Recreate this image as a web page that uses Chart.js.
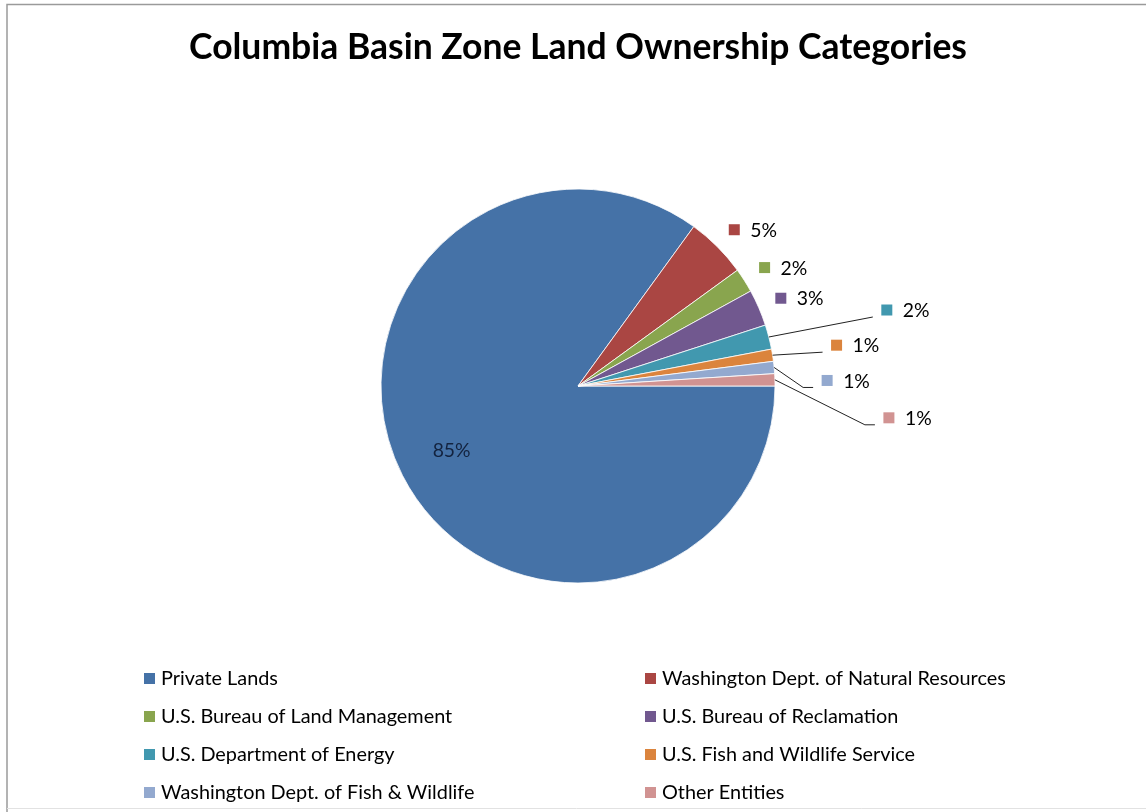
<!DOCTYPE html>
<html>
<head>
<meta charset="utf-8">
<script src="https://cdn.jsdelivr.net/npm/chart.js@4.4.1/dist/chart.umd.min.js"></script>
<style>
  html, body { margin: 0; padding: 0; background: #fff; }
  #quadro { width: 1146px; height: 812px; position: relative; }
</style>
</head>
<body>
<div id="quadro"><canvas id="grafico-pizza"></canvas></div>
<script>
// Land ownership shares (percent of zone area)
const categories = [
  'Private Lands',
  'Washington Dept. of Natural Resources',
  'U.S. Bureau of Land Management',
  'U.S. Bureau of Reclamation',
  'U.S. Department of Energy',
  'U.S. Fish and Wildlife Service',
  'Washington Dept. of Fish & Wildlife',
  'Other Entities'
];
const shares = [85, 5, 2, 3, 2, 1, 1, 1];
const sliceColors = ['#4572A7', '#AA4643', '#89A54E', '#71588F', '#4198AF', '#DB843D', '#93A9CF', '#D19392'];

const titleText = 'Columbia Basin Zone Land Ownership Categories';
const fontFamily = 'Lato, "Open Sans", sans-serif';

// pick a font size so a string comes out at a given width
function fitSize(text, weight, width) {
  const c = document.createElement('canvas').getContext('2d');
  c.font = weight + ' 100px ' + fontFamily;
  return 100 * width / c.measureText(text).width;
}
const titleSize = fitSize(titleText, 'bold', 778);
const legendSize = fitSize('Washington Dept. of Natural Resources', 'normal', 344);
const labelSize = fitSize('85%', 'normal', 38);

const titlePadTop = 48 - titleSize * 0.6;
const titlePadBottom = 20;
const areaTop = titlePadTop + titleSize * 1.2 + titlePadBottom;

// callout layout for the thin slices: elbow offset from the arc edge, then a short tail
const callouts = [
  null, null, null, null,
  { elbow: [104, -20], tail: 0 },
  { elbow: [50, -3], tail: 0 },
  { elbow: [29, 20], tail: 10 },
  { elbow: [90, 45], tail: 10 }
];

// frame around the chart object
const framePlugin = {
  id: 'frame',
  beforeDraw(chart) {
    const ctx = chart.ctx;
    ctx.save();
    ctx.fillStyle = '#fff';
    ctx.fillRect(0, 0, chart.width, chart.height);
    ctx.strokeStyle = '#9a9a9a';
    ctx.lineWidth = 1.5;
    ctx.beginPath();
    ctx.moveTo(chart.width + 5, 4.5);
    ctx.lineTo(7, 4.5);
    ctx.lineTo(7, chart.height + 5);
    ctx.stroke();
    ctx.strokeStyle = '#e2e2e2';
    ctx.lineWidth = 1;
    ctx.beginPath();
    ctx.moveTo(7, 808.5);
    ctx.lineTo(chart.width, 808.5);
    ctx.stroke();
    ctx.restore();
  }
};

// percent labels: inside the big slice, beside or on leader lines for the rest
const labelPlugin = {
  id: 'percentLabels',
  afterDatasetsDraw(chart) {
    const ctx = chart.ctx;
    const meta = chart.getDatasetMeta(0);
    const data = chart.data.datasets[0].data;
    const total = data.reduce((a, b) => a + b, 0);
    ctx.save();
    ctx.font = labelSize + 'px ' + fontFamily;
    ctx.textBaseline = 'middle';
    meta.data.forEach((arc, i) => {
      const { x, y, startAngle, endAngle, outerRadius } = arc.getProps(['x', 'y', 'startAngle', 'endAngle', 'outerRadius'], true);
      const mid = (startAngle + endAngle) / 2;
      const text = Math.round(data[i] / total * 100) + '%';
      if (i === 0) {
        ctx.fillStyle = '#13233f';
        ctx.textAlign = 'center';
        ctx.fillText(text, x + Math.cos(mid) * outerRadius * 0.72, y + Math.sin(mid) * outerRadius * 0.72);
        return;
      }
      let sx, sy;
      const co = callouts[i];
      if (!co) {
        sx = x + Math.cos(mid) * (outerRadius + 24);
        sy = y + Math.sin(mid) * (outerRadius + 24);
      } else {
        const ax = x + Math.cos(mid) * outerRadius;
        const ay = y + Math.sin(mid) * outerRadius;
        const ex = ax + co.elbow[0];
        const ey = ay + co.elbow[1];
        ctx.strokeStyle = '#222';
        ctx.lineWidth = 1;
        ctx.beginPath();
        ctx.moveTo(ax, ay);
        ctx.lineTo(ex, ey);
        ctx.lineTo(ex + co.tail, ey);
        ctx.stroke();
        sx = ex + co.tail + 14;
        sy = ey - 7;
      }
      ctx.fillStyle = sliceColors[i];
      ctx.fillRect(sx - 5.5, sy - 5.5, 11, 11);
      ctx.fillStyle = '#000';
      ctx.textAlign = 'left';
      ctx.fillText(text, sx + 16, sy + 1);
    });
    ctx.restore();
  }
};

// two-column legend under the pie
const legendPlugin = {
  id: 'twoColumnLegend',
  afterDraw(chart) {
    const ctx = chart.ctx;
    ctx.save();
    ctx.font = legendSize + 'px ' + fontFamily;
    ctx.textBaseline = 'middle';
    ctx.textAlign = 'left';
    chart.data.labels.forEach((label, i) => {
      const col = i % 2;
      const row = Math.floor(i / 2);
      const bx = col ? 645 : 144;
      const by = 678 + row * 38;
      ctx.fillStyle = sliceColors[i];
      ctx.fillRect(bx, by - 5, 11, 11);
      ctx.fillStyle = '#000';
      ctx.fillText(label, bx + 17, by + 1);
    });
    ctx.restore();
  }
};

const ctxPizza = document.getElementById('grafico-pizza');
new Chart(ctxPizza, {
  type: 'pie',
  data: {
    labels: categories,
    datasets: [{
      data: shares,
      backgroundColor: sliceColors,
      borderColor: 'rgba(255,255,255,0.8)',
      borderWidth: 1
    }]
  },
  options: {
    responsive: true,
    maintainAspectRatio: false,
    animation: false,
    rotation: 90,
    radius: 197,
    layout: { padding: { left: 10, right: 0, top: 0, bottom: areaTop + 40 } },
    plugins: {
      legend: { display: false },
      tooltip: { enabled: false },
      title: {
        display: true,
        text: titleText,
        color: '#000',
        font: { family: fontFamily, size: titleSize, weight: 'bold' },
        padding: { top: titlePadTop, bottom: titlePadBottom }
      }
    }
  },
  plugins: [framePlugin, labelPlugin, legendPlugin]
});
</script>
</body>
</html>
